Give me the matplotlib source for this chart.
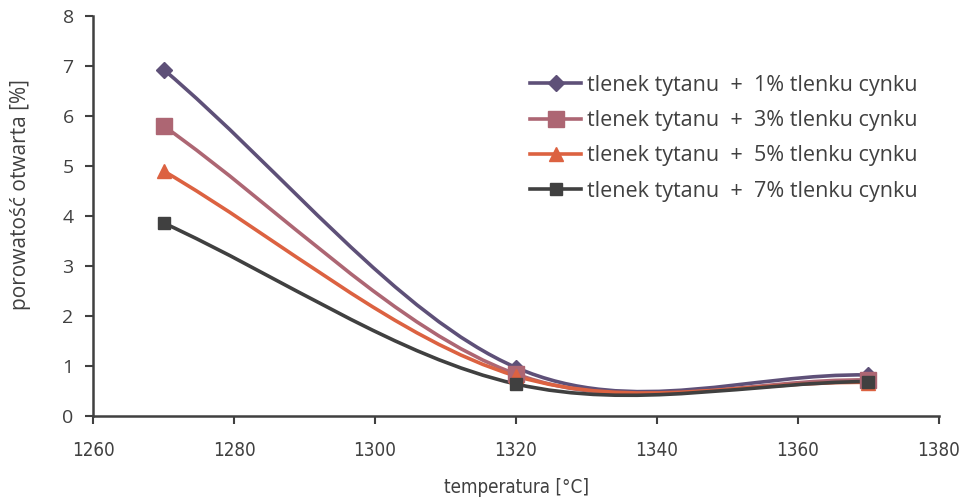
import matplotlib
matplotlib.use('Agg')
import matplotlib.pyplot as plt
from matplotlib.path import Path
from matplotlib.patches import PathPatch
from matplotlib.lines import Line2D
import numpy as np
# --------------------------------------------------------------------------------------
# Data

temperature = [1270, 1320, 1370]

labels = ['tlenek tytanu  +  1% tlenku cynku',
          'tlenek tytanu  +  3% tlenku cynku',
          'tlenek tytanu  +  5% tlenku cynku',
          'tlenek tytanu  +  7% tlenku cynku']

zn1 = [6.93, 0.97, 0.82]
zn3 = [5.80, 0.84, 0.72]
zn5 = [4.90, 0.80, 0.67]
zn7 = [3.86, 0.64, 0.69]

xTicks = [1260, 1280, 1300, 1320, 1340, 1360, 1380]
yTicks = [0, 1, 2, 3, 4, 5, 6, 7, 8]
# --------------------------------------------------------------------------------------
# Styles

series  = [zn1, zn3, zn5, zn7]
colors  = ['#5e5078', '#ad6673', '#dc6241', '#404040']
markers = ['D', 's', '^', 's']
msizes  = [8, 11, 10, 9]

axcol = '#404040'
font  = 'Open Sans'

# smoothed line (excel style bezier through the points)
def smoothPath(x, y):
    pts = np.column_stack([x, y]).astype(float)
    n = len(pts)
    verts = [pts[0]]
    codes = [Path.MOVETO]
    for i in range(n - 1):
        p0 = pts[max(i - 1, 0)]
        p1 = pts[i]
        p2 = pts[i + 1]
        p3 = pts[min(i + 2, n - 1)]
        c1 = p1 + (p2 - p0) / 6 if i > 0 else p1 + (p2 - p1) / 3
        c2 = p2 - (p3 - p1) / 6 if i < n - 2 else p2 - (p2 - p1) / 3
        verts += [c1, c2, p2]
        codes += [Path.CURVE4] * 3
    return Path(verts, codes)
# --------------------------------------------------------------------------------------
# Chart

fig, ax = plt.subplots(figsize = (9.6, 5), dpi = 100)
fig.subplots_adjust(left = 0.097, right = 0.978, top = 0.968, bottom = 0.168)

handles = []
for s, c, m, ms, lab in zip(series, colors, markers, msizes, labels):
    ax.add_patch(PathPatch(smoothPath(temperature, s), facecolor = 'none',
                           edgecolor = c, linewidth = 2.6, capstyle = 'round'))
    ax.plot(temperature, s, linestyle = 'none', marker = m, markersize = ms,
            color = c, zorder = 3)
    handles.append(Line2D([], [], color = c, linewidth = 2.6, marker = m,
                          markersize = ms))

ax.spines['top'].set_visible(False)
ax.spines['right'].set_visible(False)
for sp in ['left', 'bottom']:
    ax.spines[sp].set_color(axcol)
    ax.spines[sp].set_linewidth(1.8)

ax.tick_params(axis = 'both', direction = 'out', length = 6, width = 1.5,
               color = axcol, labelcolor = axcol)

# x
ax.set_xlim(1260, 1380)
ax.set_xticks(xTicks)
ax.set_xticklabels([str(t) for t in xTicks], family = 'DejaVu Sans',
                   fontstretch = 'condensed', fontsize = 13.5)
ax.tick_params(axis = 'x', pad = 12)
ax.set_xlabel('temperatura [°C]', family = 'DejaVu Sans', fontstretch = 'condensed',
              fontsize = 13.5, color = axcol, labelpad = 13)

# y
ax.set_ylim(0, 8)
ax.set_yticks(yTicks)
ax.set_yticklabels([str(t) for t in yTicks], family = font, fontsize = 14)
ax.tick_params(axis = 'y', pad = 8)
ax.set_ylabel('porowatość otwarta [%]', family = font, fontsize = 15, color = axcol)
ax.yaxis.set_label_coords(-0.073, 0.554)

leg = ax.legend(handles, labels, loc = 'upper right', bbox_to_anchor = (0.99, 0.885),
                frameon = False, handlelength = 2.4, handletextpad = 0.25,
                labelspacing = 0.66, borderaxespad = 0.2,
                prop = {'family': font, 'size': 15.5})
for t in leg.get_texts():
    t.set_color(axcol)

fig.savefig('out.png', dpi = 100)
